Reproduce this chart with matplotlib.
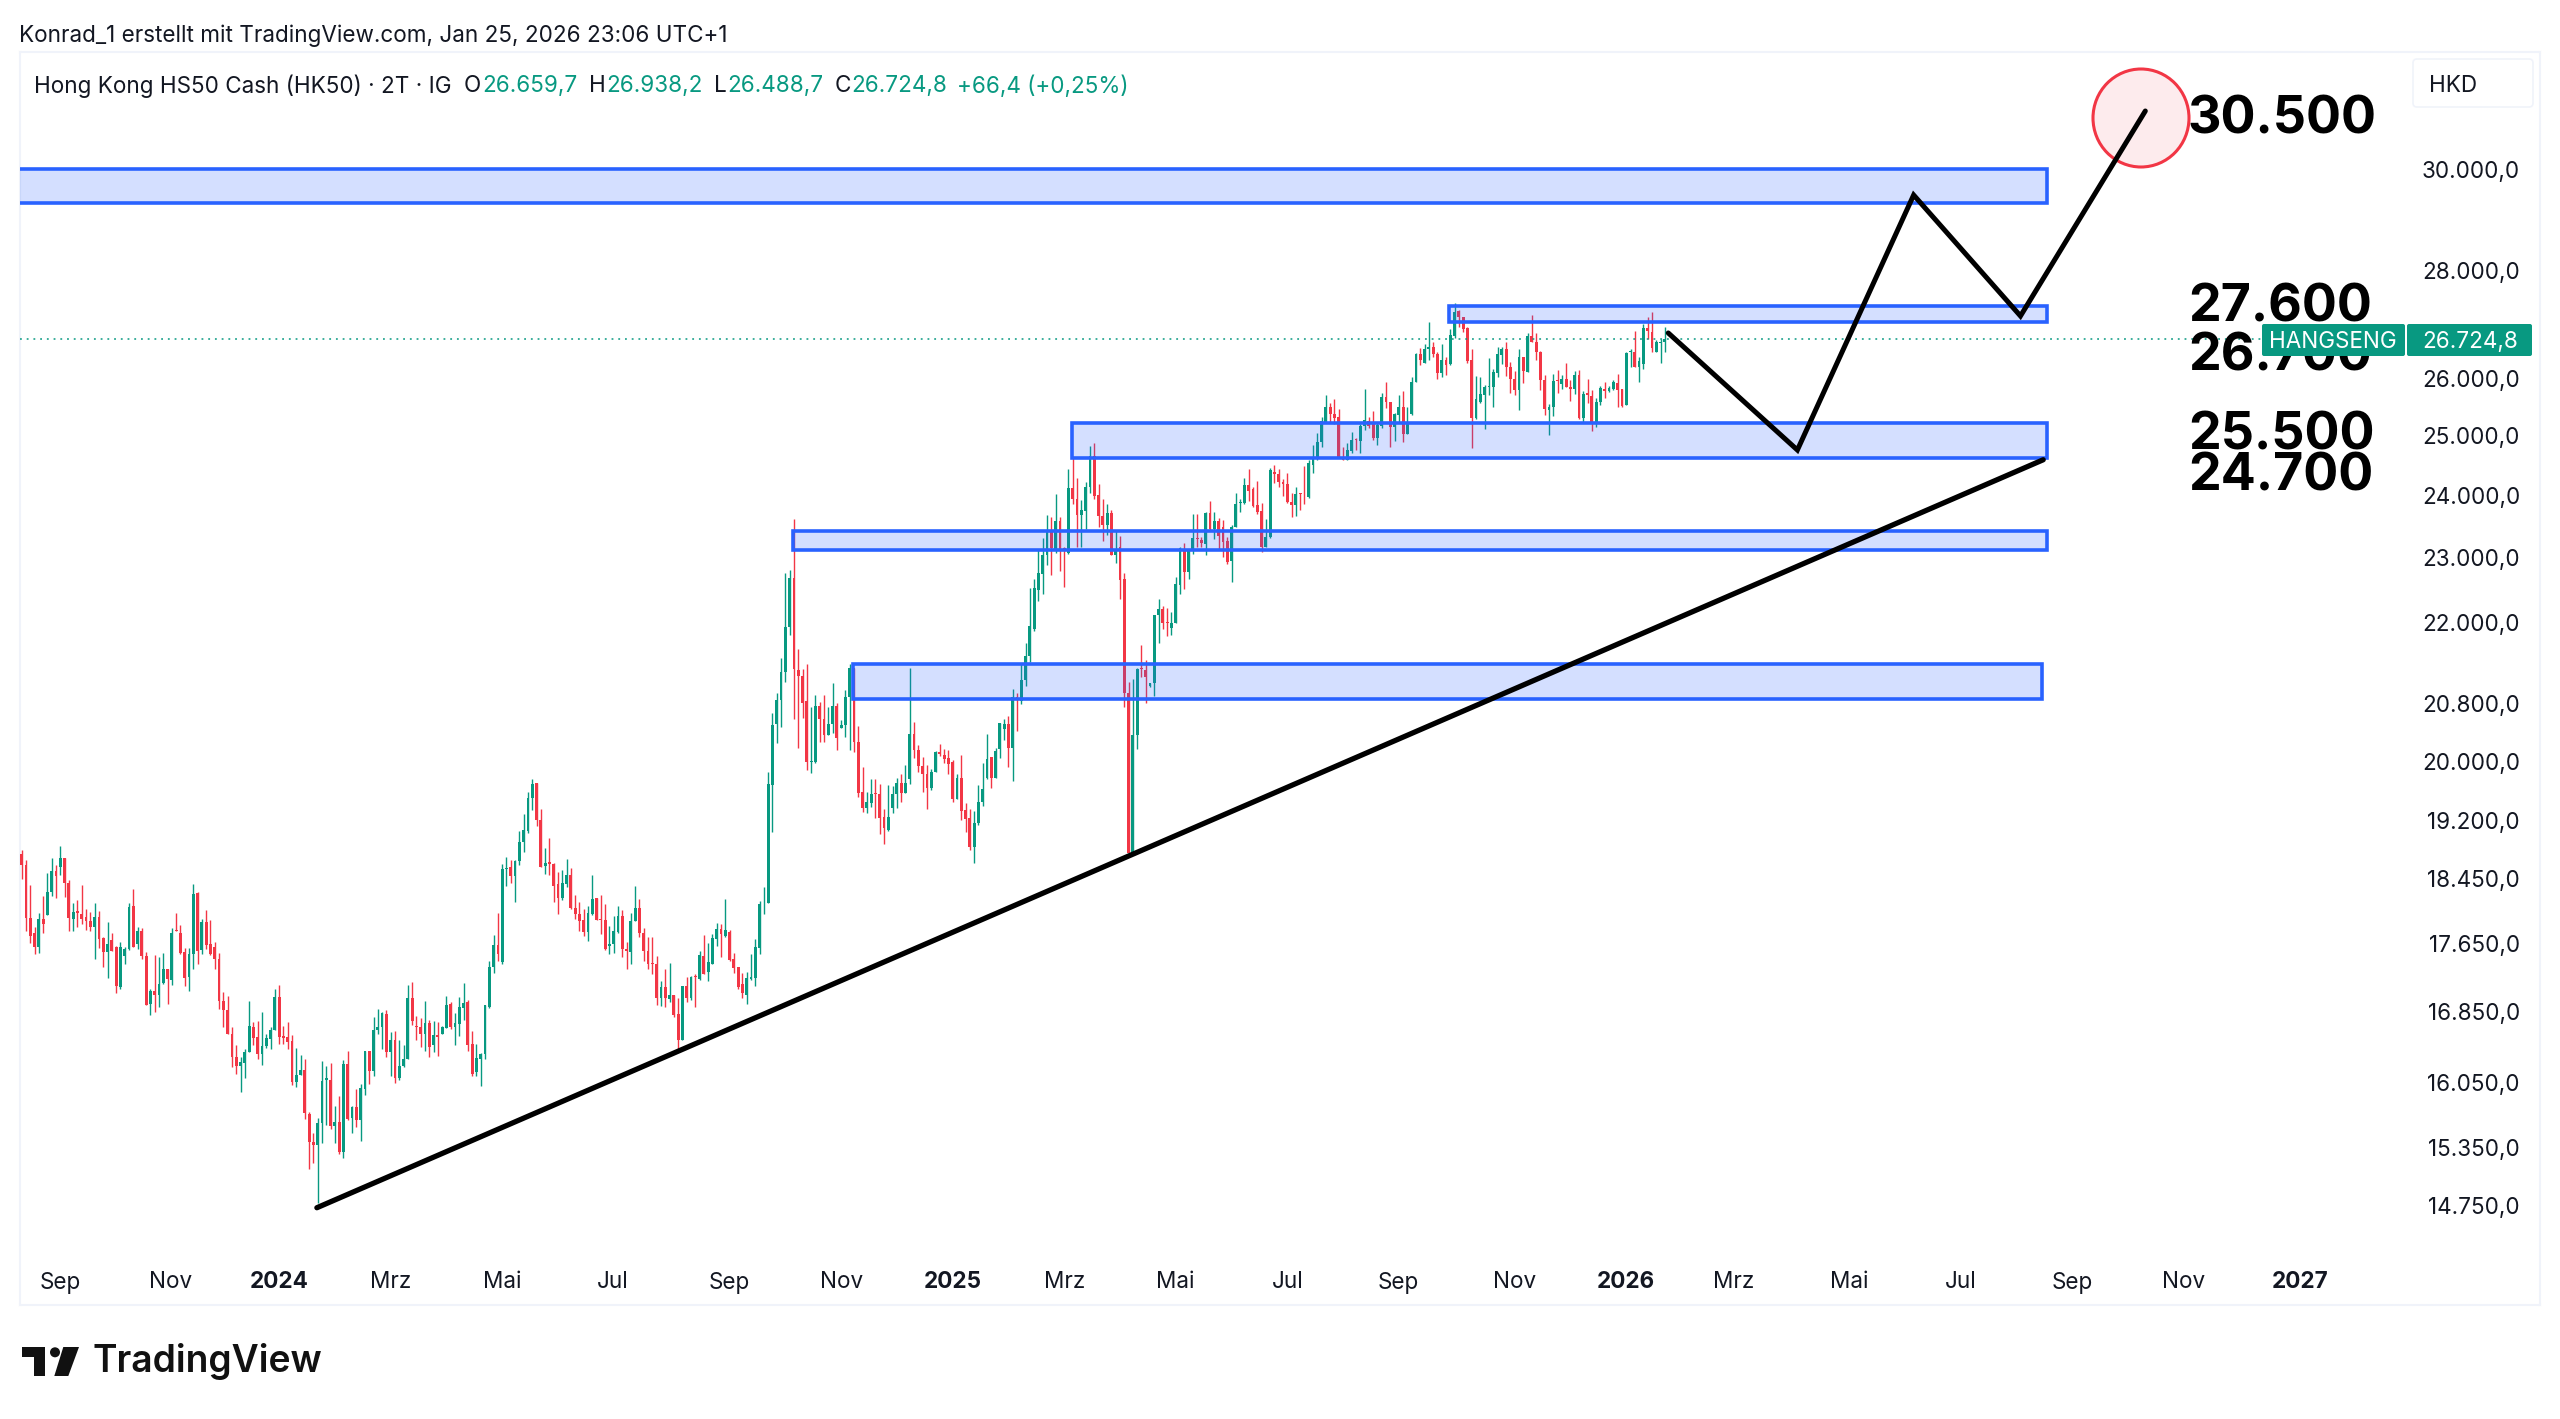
import matplotlib
matplotlib.use("Agg")
import matplotlib.pyplot as plt
from matplotlib.patches import Rectangle, Ellipse, Polygon, Circle, FancyBboxPatch
from matplotlib.transforms import Affine2D
import numpy as np

plt.rcParams['font.family'] = ['Inter', 'DejaVu Sans']

# open, high, low, close, one row per 2-day bar
bars_2023 = [
 (18770,18830,18450,18635),(18635,18695,17810,17970),(17970,18375,17665,17750),(17790,17855,17530,17610),
 (17610,18030,17545,17950),(17950,18240,17780,17895),(18005,18525,18005,18290),(18285,18720,18235,18550),
 (18550,18635,18220,18490),(18610,18880,18505,18720),(18720,18720,18225,18410),(18410,18440,17810,17970),
 (17960,18155,17810,18040),(18050,18185,17860,18030),(18015,18375,17900,17960),(17985,18085,17820,17925),
 (17925,18040,17810,17860),(17860,18150,17465,17975),(17985,18050,17600,17715),(17725,17740,17375,17555),
 (17555,17915,17240,17650),(17705,17790,17565,17565),(17620,17625,17065,17145),(17135,17675,17120,17620),
 (17500,17610,17410,17585),(17585,18155,17580,18100),(18115,18325,17610,17620),(17650,17860,17585,17810),
 (17810,17840,17465,17500),(17505,17560,16930,16930),(16940,17110,16810,17090),(17090,17520,16850,17040),
 (17040,17490,16905,17175),(17190,17545,17175,17345),(17345,17345,16940,17230),(17225,17840,17160,17790),
 (17815,18030,17810,17810),(17790,17880,17525,17540),(17555,17600,17145,17240),(17260,17600,17095,17530),
 (17530,18390,17350,18265),(18275,18290,17410,17570),(17580,17960,17530,17915),(17915,18065,17585,17640),
 (17645,17940,17520,17525),(17620,17675,17350,17475),(17470,17540,16885,16980),(16980,17080,16675,16870),
 (16870,17035,16600,16600),(16600,16680,16225,16340),(16340,16470,16150,16240),(16240,16340,15950,16280),
 (16270,16430,16100,16390),(16390,16980,16390,16690),(16680,16730,16470,16545),(16555,16745,16315,16370),
 (16370,16850,16250,16455),(16455,16600,16440,16545),(16540,16675,16420,16645),(16645,17110,16640,17025),
 (17025,17165,16485,16555),(16570,16690,16485,16545),(16555,16735,16430,16505),(16510,16585,16025,16055),
 (16055,16435,16005,16135),(16140,16360,16130,16190),(16195,16315,15660,15715),(15710,15735,15125,15410),
 (15415,15510,15190,15380),(15380,15665,14780,15610),(15610,16285,15405,16065),(16085,16235,15590,16100),
]
bars_2024_a = [
 (16085,16265,15545,15580),(15580,15800,15405,15625),(15625,15905,15285,15310),(15310,16300,15245,16255),
 (16255,16405,15645,15660),(15670,15795,15510,15780),(15780,15985,15575,15650),(15650,16040,15425,15990),
 (15985,16405,15915,16405),(16405,16405,16040,16180),(16180,16785,16120,16645),(16635,16880,16590,16680),
 (16680,16850,16430,16830),(16825,16865,16340,16395),(16390,16615,16120,16525),(16530,16630,16050,16105),
 (16100,16525,16080,16240),(16240,16465,16225,16315),(16315,17160,16315,17010),(17010,17200,16695,16745),
 (16680,16800,16525,16675),(16680,16775,16450,16590),(16590,16980,16405,16715),(16715,16760,16330,16450),
 (16465,16745,16395,16585),(16585,16735,16345,16565),(16590,16690,16590,16680),(16665,17035,16665,16930),
 (16940,16965,16650,16680),(16680,16840,16475,16715),(16705,17025,16570,16900),(16895,17190,16755,16955),
 (16965,16990,16405,16475),(16485,16630,16120,16150),(16165,16485,16120,16320),(16315,16375,16015,16370),
 (16370,16930,16315,16925),(16910,17450,16895,17380),(17380,17755,17305,17635),(17635,18030,17450,17530),
 (17430,18640,17415,18580),(18580,18735,18360,18590),(18607,18690,18400,18490),(18490,18690,18160,18680),
 (18680,19070,18630,18930),(18930,19300,18800,19080),(19070,19585,19045,19510),(19510,19760,19345,19700),
 (19710,19710,19140,19220),(19220,19360,18607,18607),(18615,18855,18515,18655),(18665,18980,18505,18650),
 (18650,18655,18160,18370),(18390,18540,18020,18220),(18210,18565,18195,18405),(18395,18715,18355,18505),
 (18505,18600,18085,18095),(18095,18250,17955,18020),(18020,18165,17810,17935),(17940,18080,17750,17800),
 (17800,18110,17690,18030),(18020,18500,18005,18205),(18210,18220,17940,17940),(17955,18250,17777,17940),
 (17940,18145,17575,17595),(17630,17865,17525,17645),(17655,17995,17545,17810),(17800,18120,17785,17990),
 (17995,18070,17495,17590),(17590,17680,17350,17565),(17550,18035,17415,17925),(17925,18360,17925,18095),
 (18095,18205,17730,17785),(17785,17850,17450,17565),(17565,17730,17350,17415),(17415,17730,17295,17410),
 (17410,17505,16925,17015),(17015,17210,16915,17140),(17140,17355,16905,17005),(17000,17425,16965,17045),
 (17040,17050,16785,16815),(16820,17010,16420,16530),(16530,17155,16525,17150),(17150,17255,16965,17005),
 (17005,17270,16990,17255),(17265,17295,16905,17255),(17230,17565,17225,17515),(17510,17755,17290,17295),
 (17315,17665,17210,17440),(17415,17775,17410,17720),(17715,17905,17630,17835),(17835,17890,17495,17777),
 (17745,18205,17735,17820),(17795,17825,17450,17455),(17470,17545,17305,17360),(17370,17376,17110,17140),
 (17175,17305,17005,17065),(17040,17320,16935,17240),(17230,17535,17225,17250),(17240,17715,17155,17615),
 (17605,18180,17525,18135),(18160,18350,18020,18170),(18155,19855,18155,19690),(19680,20675,19060,20515),
]
bars_2024_b = [
 (20525,20960,20255,20865),(20865,21470,20480,21270),(21270,22765,21115,21940),(21930,22810,21810,22685),
 (22685,23625,20600,21310),(21300,21600,20190,21210),(21210,21310,20610,20825),(20845,21385,19890,19990),
 (19995,20760,19840,20015),(19990,20940,19980,20780),(20780,20835,20265,20590),(20590,20930,20275,20375),
 (20375,20770,20375,20525),(20525,21105,20394,20780),(20780,20815,20165,20320),(20470,20580,20470,20505),
 (20505,21005,20340,20900),(20900,21385,20165,21330),(21330,21330,20130,20275),(20275,20495,19520,19575),
 (19585,19925,19320,19375),(19375,19590,19310,19450),(19440,19765,19390,19565),(19575,19765,19245,19555),
 (19565,19700,19030,19240),(19255,19360,18900,19105),(19085,19680,19070,19255),(19370,19665,19310,19555),
 (19565,19775,19375,19710),(19710,19825,19450,19575),(19575,19950,19575,19710),(19765,21330,19695,20385),
 (20385,20550,20050,20165),(20165,20235,19855,19934),(19945,20070,19590,19825),(19835,19955,19360,19645),
 (19640,19900,19610,19860),(19855,20140,19855,20135),(20135,20245,20080,20100),(20090,20170,19980,20035),
 (20045,20165,19825,19970),(19990,20025,19460,19490),(19500,19835,19500,19780),(19780,20095,19215,19330),
 (19345,19440,19055,19230),(19240,19360,18820,18860),(18870,19330,18655,19175),(19175,19680,19150,19450),
 (19450,19980,19405,19635),(19775,20385,19765,20035),(20060,20060,19645,19775),(19780,20185,19780,20145),
 (20170,20540,20045,20530),(20450,20590,20300,20525),(20525,20635,19925,20190),(20190,21025,19740,20910),
 (20910,20960,20430,20890),(20845,21405,20810,21155),(21145,21690,21060,21505),(21495,22525,21420,21950),
 (21900,22665,21880,22520),
]
bars_2025_a = [
 (22495,23145,22335,22755),(22745,23305,22435,23035),(23035,23685,22890,23440),(23440,23655,22725,23150),
 (23145,24025,23080,23590),(23590,23645,22785,23125),(23150,23175,22550,23125),(23070,24445,23055,24120),
 (24120,24645,23870,23950),(23950,24285,23175,23680),(23680,23928,23175,23760),(23750,24230,23450,24145),
 (24135,24835,24050,24655),(24655,24885,23950,23995),(24005,24200,23485,23665),(23670,23940,23260,23520),
 (23520,23870,23360,23720),(23720,23760,23040,23040),(23040,23420,22915,23145),(23175,23345,22365,22650),
 (22660,22755,20770,20960),(20960,21120,18785,18785),(18805,21165,18795,20365),(20365,21320,20180,21310),
 (21330,21660,21190,21310),(21295,21450,20825,21200),(21065,21105,21055,21105),(21105,22110,20915,22110),
 (22110,22355,21700,22210),(22210,22250,21905,21990),(22010,22215,21800,21990),(21925,22160,21820,21990),
 (21990,22695,21990,22590),(22580,23175,22435,23160),(23145,23235,22505,22775),(22775,23120,22670,23120),
 (23110,23700,23055,23310),(23320,23700,23175,23300),(23280,23330,23175,23235),(23225,23740,23035,23720),
 (23710,23915,23430,23465),(23450,23740,23295,23590),(23590,23630,23145,23345),(23485,23600,23005,23255),
 (23260,23330,22905,22930),(22945,23525,22625,23495),(23485,24035,23485,23860),(23875,23940,23740,23895),
 (23885,24285,23870,24175),(24175,24450,23905,24080),(24105,24135,23815,23830),(23840,24245,23700,23735),
 (23750,23885,23095,23175),(23175,23620,23175,23330),(23330,24455,23320,24425),(24395,24505,24215,24360),
 (24360,24450,24135,24230),(24230,24270,23995,24190),(24190,24370,23885,23900),(23900,24035,23655,23845),
 (23845,24135,23665,24025),(24035,24050,23770,24020),(24015,24500,23860,24005),(23970,24590,23955,24545),
 (24505,24845,24375,24635),(24635,25045,24590,24905),
]
bars_2025_b = [
 (24895,25335,24815,25265),(25250,25715,25220,25495),(25495,25565,25250,25375),(25385,25635,25205,25315),
 (25330,25460,24645,24645),(24645,24805,24590,24590),(24590,24885,24590,24760),(24750,25075,24715,24930),
 (24945,24960,24760,24930),(24920,25210,24705,25175),(25165,25815,25105,25280),(25265,25325,25135,25175),
 (25245,25430,24930,24960),(24960,25250,24850,25190),(25175,25745,25135,25670),(25670,25935,25480,25590),
 (25590,25590,24815,25150),(25150,25400,24920,25375),(25365,25715,25230,25495),(25495,25775,24900,25035),
 (25035,25495,25035,25245),(25375,26025,25360,25950),(25950,26465,25945,26445),(26445,26555,26245,26335),
 (26290,26625,26275,26530),(26540,27040,26335,26575),(26575,26665,26385,26445),(26455,26485,26005,26105),
 (26105,26625,26035,26345),(26345,26395,26075,26250),(26265,26895,26255,26785),(26775,27380,26735,27220),
 (27245,27255,26935,27120),(27120,27130,26850,26895),(26920,26945,26290,26315),(26335,26535,24790,25310),
 (25310,26050,25300,25650),(25595,26035,25580,25730),(25715,25885,25115,25850),(25855,26365,25715,25865),
 (25850,26170,25495,26120),(26105,26575,26035,26445),(26425,26575,26265,26530),(26540,26665,26050,26217),
 (26217,26305,25755,25990),(26000,26145,25720,25805),(25805,26540,25450,26385),(26385,26385,25925,26145),
 (26125,26823,26125,26775),(26775,27155,26665,26665),(26665,26835,26335,26485),(26490,26500,25805,25975),
 (25975,26060,25355,25460),(25450,25555,25010,25495),(25495,26085,25345,25965),(25975,26155,25745,25955),
 (25905,26060,25825,26000),(25990,26280,25850,25855),(25850,25975,25615,25815),(25815,26145,25730,26060),
 (26060,26155,25290,25315),(25315,25775,25230,25730),(25745,25995,25565,25720),(25695,25805,25085,25200),
 (25210,25660,25150,25590),(25590,25865,25530,25830),(25820,25935,25655,25785),(25775,25865,25765,25840),
 (25815,25975,25805,25940),(25925,26085,25495,25805),(25815,25815,25495,25520),(25535,26485,25535,26465),
 (26485,26540,26205,26500),(26485,26870,26205,26217),(26217,26385,25945,26325),(26265,27000,26170,26920),
 (26915,27130,26715,26860),(26850,27220,26485,26550),(26480,26700,26480,26670),(26645,26715,26275,26655),
 (26660,26938,26489,26725),
]

price_ticks = [30000, 28000, 26000, 25000, 24000, 23000, 22000, 20800, 20000, 19200,
               18450, 17650, 16850, 16050, 15350, 14750]
month_labels = ['Sep', 'Nov', '2024', 'Mrz', 'Mai', 'Jul', 'Sep', 'Nov', '2025', 'Mrz', 'Mai',
                'Jul', 'Sep', 'Nov', '2026', 'Mrz', 'Mai', 'Jul', 'Sep', 'Nov', '2027']
month_bars = [8.9, 34.8, 60, 85.9, 111.9, 137.8, 164.9, 191, 217, 243, 268.9,
              295, 320.9, 347.9, 374, 399, 426, 452, 478, 504, 531]

# zones as (first bar, last bar, lower price, upper price)
zones = [(-5, 472.1, 29330, 30030), (332.7, 472.1, 27032, 27335), (244.8, 472.1, 24632, 25220),
         (179.7, 472.1, 23120, 23428), (193.8, 470.9, 20882, 21385)]
trend_bars = [68.8, 471.2]
trend_prices = [14732, 24597]
path_bars = [383.8, 413.9, 441, 465.9, 495]
path_prices = [26830, 24762, 29490, 27144, 31238]
big_levels = ['30.500', '27.600', '26.700', '25.500', '24.700']
last_price = 26724.8

UP = '#089981'
DOWN = '#F23645'
BLUE = '#2962FF'
TEXT = '#131722'
W, H = 2560, 1419
FS = 16.2

ohlc = np.array(bars_2023 + bars_2024_a + bars_2024_b + bars_2025_a + bars_2025_b, dtype=float)
opens, highs, lows, closes = ohlc.T
idx = np.arange(len(ohlc))
colors = [UP if c >= o else DOWN for o, c in zip(opens, closes)]

fig = plt.figure(figsize=(W / 100, H / 100), dpi=100, facecolor='white')
pix = Affine2D().scale(1, -1).translate(0, H)   # reference pixels, y down
down2 = Affine2D().translate(0, -2)


def ftext(x, y, s, **kw):
    kw.setdefault('va', 'center')
    kw.setdefault('color', TEXT)
    return fig.text(x / W, 1 - y / H, s, **kw)


def de_num(v):
    return f'{v:,.1f}'.replace(',', 'X').replace('.', ',').replace('X', '.')


ax = fig.add_axes([20 / W, 1 - 1305 / H, 2520 / W, 1253 / H])
ax.set_yscale('log')
ax.set_xlim(-0.4, 587)
ax.set_ylim(13782, 32527)
ax.xaxis.set_visible(False)
ax.yaxis.set_visible(False)
for sp in ax.spines.values():
    sp.set_color('#F0F3FA')
    sp.set_linewidth(1.5)

ax.vlines(idx, lows, highs, colors=colors, linewidth=1.0, zorder=2)
ax.bar(idx, np.maximum(np.abs(closes - opens), 12), bottom=np.minimum(opens, closes),
       width=0.66, color=colors, linewidth=0, zorder=3)

for x0, x1, lo, hi in zones:
    ax.add_patch(Rectangle((x0, lo), x1 - x0, hi - lo, facecolor=(41 / 255, 98 / 255, 1, 0.2),
                           edgecolor=BLUE, linewidth=2.6, zorder=4))

ax.axhline(last_price, xmax=(2262 - 20) / 2520, color=UP, linewidth=1.1,
           linestyle=(0, (1.2, 3.2)), zorder=4)

ax.plot(trend_bars, trend_prices, color='black', linewidth=3.8, solid_capstyle='round', zorder=6)

circle = Ellipse((2141, 118), 96, 98, facecolor='#FDEBED', edgecolor=DOWN, linewidth=2.2,
                 transform=pix, zorder=5)
ax.add_patch(circle)
ax.plot(path_bars, path_prices, color='black', linewidth=3.6, solid_capstyle='round',
        solid_joinstyle='miter', zorder=6)

# price scale and time scale
for p in price_ticks:
    ax.text((2520 - 20) / 2520, p, de_num(p), transform=ax.get_yaxis_transform() + down2,
            ha='right', va='center', fontsize=FS, color=TEXT, zorder=7)
for b, s in zip(month_bars, month_labels):
    ax.text(b, (1305 - 1282.5) / 1253, s, transform=ax.get_xaxis_transform(), ha='center', va='center',
            fontsize=FS, color=TEXT, fontweight='bold' if s.isdigit() else 'normal', zorder=7)

# big hand-placed level labels
for y, s in zip([120, 308, 357, 436, 477], big_levels):
    ax.text(2188, y, s, transform=pix, ha='left', va='center', fontsize=37.4, fontweight='bold',
            color='black', zorder=8)

# last price tags
for x0, x1 in [(2262, 2405), (2407, 2532)]:
    ax.add_patch(FancyBboxPatch((x0 + 2, 326), x1 - x0 - 4, 28, boxstyle='round,pad=2',
                                facecolor=UP, edgecolor='none', transform=pix, zorder=9))
ax.text(2333, 342, 'HANGSENG', transform=pix, ha='center', va='center', fontsize=FS,
        color='white', zorder=10)
ax.text(2470, 342, de_num(last_price), transform=pix, ha='center', va='center', fontsize=FS,
        color='white', zorder=10)

# currency button
ax.add_patch(FancyBboxPatch((2417, 63), 112, 40, boxstyle='round,pad=4', facecolor='white',
                            edgecolor='#F0F3FA', linewidth=1.2, transform=pix, zorder=7))
ax.text(2429, 85.5, 'HKD', transform=pix, ha='left', va='center', fontsize=FS, color=TEXT, zorder=8)

# header and legend line
ftext(19, 35.5, 'Konrad_1 erstellt mit TradingView.com, Jan 25, 2026 23:06 UTC+1', fontsize=FS)
legend_parts = [(34, 'Hong Kong HS50 Cash (HK50) · 2T · IG', TEXT), (464, 'O', TEXT), (482, '26.659,7', UP),
                (589, 'H', TEXT), (606, '26.938,2', UP), (714, 'L', TEXT), (727, '26.488,7', UP),
                (835, 'C', TEXT), (851, '26.724,8', UP), (957, '+66,4 (+0,25%)', UP)]
for x, s, c in legend_parts:
    ftext(x, 86.5, s, fontsize=FS, color=c)

# TradingView logo at the bottom
logo_t = np.array([(22.3, 1347), (45, 1347), (45, 1376), (34.3, 1376), (34.3, 1357.3), (22.3, 1357.3)])
logo_s = np.array([(63.3, 1347), (79, 1347), (68.3, 1376), (54.3, 1376)])
fig.add_artist(Polygon(logo_t, closed=True, facecolor='#111111', edgecolor='none', transform=pix))
fig.add_artist(Polygon(logo_s, closed=True, facecolor='#111111', edgecolor='none', transform=pix))
fig.add_artist(Circle((55, 1352.3), 5, facecolor='#111111', edgecolor='none', transform=pix))
ftext(92, 1362, 'TradingView', fontsize=26.8, fontweight='semibold', color='#111111')

fig.savefig('out.png', dpi=100)
